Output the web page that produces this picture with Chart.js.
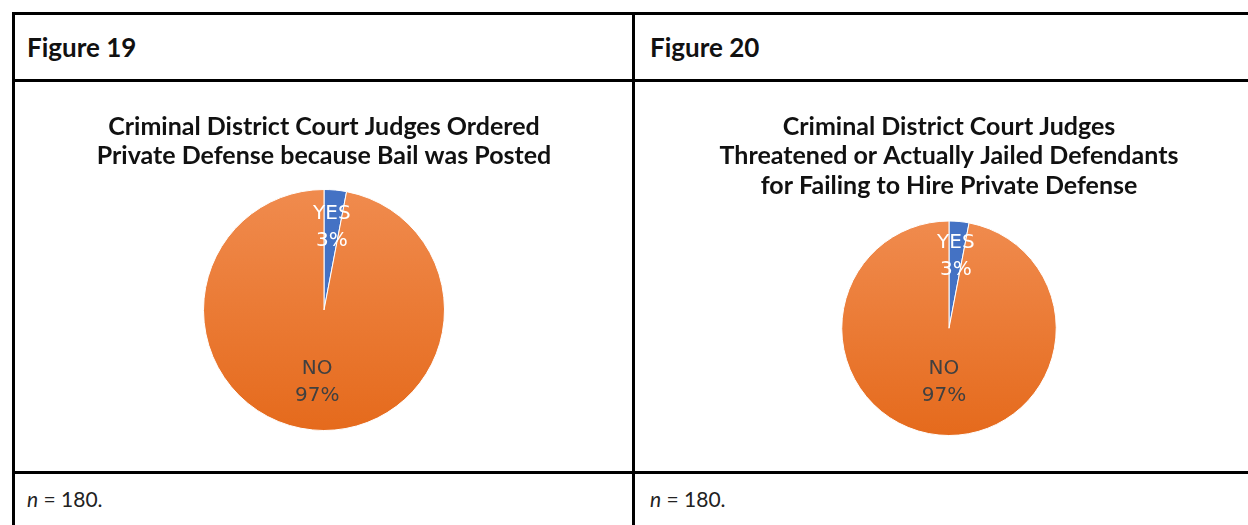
<!DOCTYPE html>
<html>
<head>
<meta charset="utf-8">
<script src="https://cdn.jsdelivr.net/npm/chart.js@4.4.1/dist/chart.umd.min.js"></script>
<style>
  body { margin: 0; width: 1248px; height: 525px; overflow: hidden; background: #fff; font-family: Lato, sans-serif; }
  .line { position: absolute; background: #000; }
  .head { position: absolute; top: 31px; font-size: 26px; font-weight: bold; color: #111; }
  .note { position: absolute; top: 486px; font-size: 21px; color: #222; }
  .box { position: absolute; top: 82px; height: 389px; }
</style>
</head>
<body>
<!-- table borders -->
<div class="line" style="left:12px;top:12px;width:1250px;height:3px"></div>
<div class="line" style="left:12px;top:79px;width:1250px;height:3px"></div>
<div class="line" style="left:12px;top:471px;width:1250px;height:3px"></div>
<div class="line" style="left:12px;top:12px;width:3px;height:520px"></div>
<div class="line" style="left:632px;top:12px;width:3px;height:520px"></div>

<div class="head" style="left:27px">Figure 19</div>
<div class="head" style="left:650px">Figure 20</div>
<div class="note" style="left:27px"><i>n</i> = 180.</div>
<div class="note" style="left:650px"><i>n</i> = 180.</div>

<div class="box" style="left:15px;width:618px"><canvas id="fig19"></canvas></div>
<div class="box" style="left:635px;width:628px"><canvas id="fig20"></canvas></div>

<script>
// data
const categories = ['YES', 'NO'];
const fig19Values = [3, 97];
const fig20Values = [3, 97];
const fig19Title = ['Criminal District Court Judges Ordered', 'Private Defense because Bail was Posted'];
const fig20Title = ['Criminal District Court Judges', 'Threatened or Actually Jailed Defendants', 'for Failing to Hire Private Defense'];

// orange slice gets a top-to-bottom gradient like the original
function sliceColor(c) {
    if (c.dataIndex === 0) return '#4472c4';
    const area = c.chart.chartArea;
    if (!area) return '#ed7d31';
    const g = c.chart.ctx.createLinearGradient(0, area.top, 0, area.bottom);
    g.addColorStop(0, '#f08b4e');
    g.addColorStop(1, '#e56a1c');
    return g;
}

// draws "YES / 3%" style labels inside the slices
const sliceLabels = {
    id: 'sliceLabels',
    afterDatasetsDraw(chart, args, opts) {
        const ctx = chart.ctx;
        const meta = chart.getDatasetMeta(0);
        const data = chart.data.datasets[0].data;
        const total = data.reduce((a, b) => a + b, 0);
        meta.data.forEach((arc, i) => {
            const p = arc.getProps(['x', 'y', 'startAngle', 'endAngle', 'outerRadius']);
            const mid = (p.startAngle + p.endAngle) / 2;
            const r = p.outerRadius * opts.dist[i];
            const x = p.x + Math.cos(mid) * r;
            const y = p.y + Math.sin(mid) * r;
            ctx.save();
            ctx.font = '20px "DejaVu Sans", sans-serif';
            ctx.fillStyle = i === 0 ? '#ffffff' : '#404040';
            ctx.textAlign = 'center';
            ctx.textBaseline = 'middle';
            ctx.fillText(chart.data.labels[i], x, y - 13);
            ctx.fillText(Math.round(data[i] / total * 100) + '%', x, y + 14);
            ctx.restore();
        });
    }
};

function makePie(id, values, title, pad, dist) {
    new Chart(document.getElementById(id), {
        type: 'pie',
        data: {
            labels: categories,
            datasets: [{
                data: values,
                backgroundColor: sliceColor,
                borderColor: '#ffffff',
                borderWidth: 1
            }]
        },
        options: {
            responsive: true,
            maintainAspectRatio: false,
            animation: false,
            layout: { padding: { bottom: pad.bottom } },
            plugins: {
                legend: { display: false },
                tooltip: { enabled: false },
                title: {
                    display: true,
                    text: title,
                    color: '#111',
                    font: { family: 'Lato, sans-serif', size: 25, weight: 'bold', lineHeight: 1.18 },
                    padding: { top: pad.top, bottom: pad.gap }
                },
                sliceLabels: { dist: dist }
            }
        },
        plugins: [sliceLabels]
    });
}

makePie('fig19', fig19Values, fig19Title, { top: 30, gap: 18, bottom: 40 }, [0.69, 0.6]);
makePie('fig20', fig20Values, fig20Title, { top: 30, gap: 20, bottom: 35 }, [0.68, 0.5]);
</script>
</body>
</html>
